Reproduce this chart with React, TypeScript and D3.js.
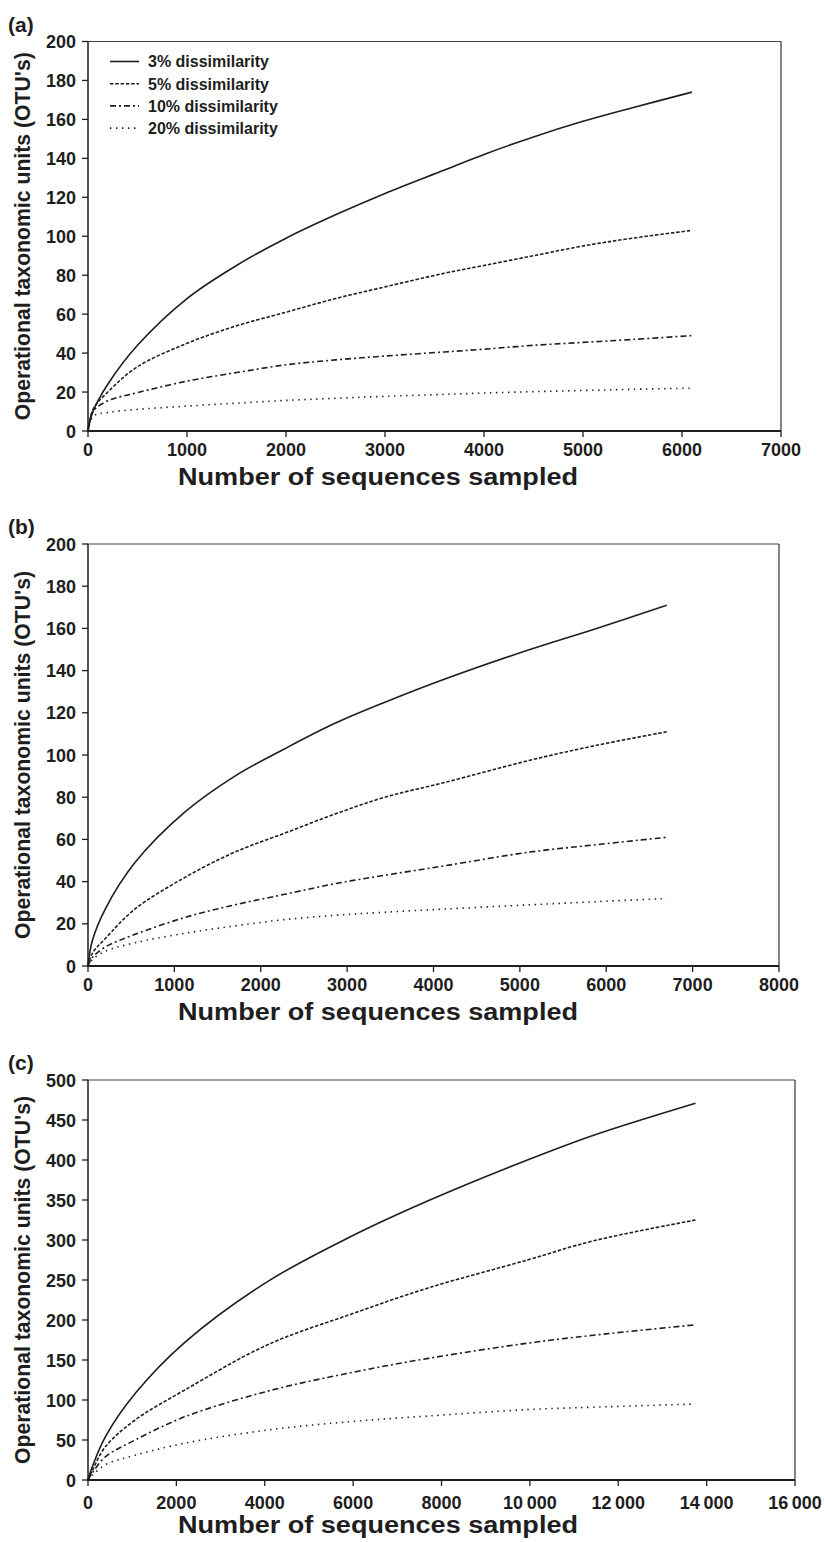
import React from 'react';
import * as d3 from 'd3';

// rarefaction curves, one line per dissimilarity cutoff
const cutoffs = ['3% dissimilarity', '5% dissimilarity', '10% dissimilarity', '20% dissimilarity'];

// panel (a)
const seqA = [0, 50, 200, 500, 1000, 1500, 2000, 2500, 3000, 3600, 4000, 4500, 5000, 5500, 6100];
const otuA3 = [0, 10, 24, 44, 68, 85, 99, 111, 122, 134, 142, 151, 159, 166, 174];
const otuA5 = [0, 11, 20, 33, 45, 54, 61, 68, 74, 81, 85, 90, 95, 99, 103];
const otuA10 = [0, 10, 15.5, 19.7, 25.6, 30, 34, 36.5, 38.5, 40.6, 42, 44, 45.5, 47, 49];
const otuA20 = [0, 7.5, 9.5, 11.1, 12.8, 14.3, 15.7, 16.8, 17.8, 18.8, 19.5, 20.2, 20.8, 21.4, 22];

// panel (b)
const seqB = [0, 50, 200, 544, 1123, 1701, 2280, 2859, 3438, 4132, 5116, 5888, 6700];
const otuB3 = [0, 12, 27, 49, 73, 90, 103, 115, 125, 136, 150, 160, 171];
const otuB5 = [0, 6, 13, 27, 42, 54, 63, 72, 80, 87, 97.5, 104.6, 111];
const otuB10 = [0, 4, 9, 15, 23, 29, 34, 39, 43, 47.5, 54, 57.5, 61];
const otuB20 = [0, 3, 7, 11, 15.5, 19, 22, 24, 25.5, 27, 29, 30.5, 32];

// panel (c)
const seqC = [0, 100, 393, 1067, 2191, 4063, 5937, 7697, 9944, 11443, 13748];
const otuC3 = [0, 17, 54, 108, 172, 248, 304, 349, 400, 431, 471];
const otuC5 = [0, 12, 41.6, 75, 112.5, 169, 207, 240, 275, 299, 325];
const otuC10 = [0, 9, 29, 50, 79, 111, 134, 152, 171, 181, 194];
const otuC20 = [0, 6, 19, 31, 46, 62.5, 73, 80, 88, 91, 95];

const yTicksAB = [0, 20, 40, 60, 80, 100, 120, 140, 160, 180, 200];
const yTicksC = [0, 50, 100, 150, 200, 250, 300, 350, 400, 450, 500];
const xTicksA = [0, 1000, 2000, 3000, 4000, 5000, 6000, 7000];
const xTicksB = [0, 1000, 2000, 3000, 4000, 5000, 6000, 7000, 8000];
const xTicksC = [0, 2000, 4000, 6000, 8000, 10000, 12000, 14000, 16000];

const dashes = [null, '3.5,1.8', '6,3,2,3', '1.4,4.6'];
const font = 'Liberation Sans, Arial, Helvetica, sans-serif';
const ink = '#1e1e1e';

const fmt = (v: number) => (v >= 10000 ? d3.format(',')(v).replace(',', '\u2009') : String(v));

function Panel({label, seq, series, xTicks, yTicks, left, right, top, bottom, legend, tickGap, titleGap}) {
  const x = d3.scaleLinear().domain([xTicks[0], xTicks[xTicks.length - 1]]).range([left, right]);
  const y = d3.scaleLinear().domain([yTicks[0], yTicks[yTicks.length - 1]]).range([bottom, top]);
  const line = d3.line<number>()
    .x((d, i) => x(seq[i]))
    .y(d => y(d))
    .curve(d3.curveCatmullRom.alpha(0.5));

  return (
    <g>
      <text x={8} y={top - 10} fontFamily={font} fontWeight="bold" fontSize={21} fill={ink}>{label}</text>

      {/* frame */}
      <line x1={left} x2={right} y1={top} y2={top} stroke="#444" strokeWidth={1.2} />
      <line x1={right} x2={right} y1={top} y2={bottom} stroke="#333" strokeWidth={1.2} />
      <line x1={left} x2={left} y1={top} y2={bottom} stroke={ink} strokeWidth={1.5} />
      <line x1={left - 1} x2={right} y1={bottom} y2={bottom} stroke={ink} strokeWidth={2.2} />

      {yTicks.map(t => (
        <g key={'y' + t}>
          <line x1={left - 6} x2={left} y1={y(t)} y2={y(t)} stroke={ink} strokeWidth={1.3} />
          <text x={left - 12} y={y(t) + 6.5} textAnchor="end" fontFamily={font} fontWeight="bold" fontSize={18} fill={ink}>{t}</text>
        </g>
      ))}
      {xTicks.map(t => (
        <g key={'x' + t}>
          <line x1={x(t)} x2={x(t)} y1={bottom} y2={bottom + 6} stroke={ink} strokeWidth={1.3} />
          <text x={x(t)} y={bottom + tickGap} textAnchor="middle" fontFamily={font} fontWeight="bold" fontSize={18} fill={ink}>{fmt(t)}</text>
        </g>
      ))}

      <text x={378} y={bottom + titleGap} textAnchor="middle" fontFamily={font} fontWeight="bold" fontSize={23}
        textLength={400} lengthAdjust="spacingAndGlyphs" fill={ink}>Number of sequences sampled</text>
      <text transform={`translate(30,${(top + bottom) / 2}) rotate(-90)`} textAnchor="middle" fontFamily={font} fontWeight="bold" fontSize={22}
        textLength={368} lengthAdjust="spacingAndGlyphs" fill={ink}>Operational taxonomic units (OTU's)</text>

      {series.map((s, i) => (
        <path key={i} d={line(s)} fill="none" stroke={ink} strokeWidth={1.6}
          strokeDasharray={dashes[i] || undefined} />
      ))}

      {legend && cutoffs.map((name, i) => {
        const ly = top + 20 + i * 22.2;
        return (
          <g key={name}>
            <line x1={110} x2={139} y1={ly} y2={ly} stroke={ink} strokeWidth={1.6} strokeDasharray={dashes[i] || undefined} />
            <text x={148} y={ly + 5.8} fontFamily={font} fontWeight="bold" fontSize={16} fill={ink}>{name}</text>
          </g>
        );
      })}
    </g>
  );
}

export default function App() {
  return (
    <svg width={824} height={1542} style={{position: 'absolute', left: 0, top: 0, background: '#fff'}}>
      <rect width={824} height={1542} fill="#fff" />
      <Panel label="(a)" seq={seqA} series={[otuA3, otuA5, otuA10, otuA20]} xTicks={xTicksA} yTicks={yTicksAB}
        left={88} right={781} top={41.5} bottom={431} legend tickGap={25} titleGap={54} />
      <Panel label="(b)" seq={seqB} series={[otuB3, otuB5, otuB10, otuB20]} xTicks={xTicksB} yTicks={yTicksAB}
        left={88} right={779} top={544} bottom={966} legend={false} tickGap={25} titleGap={54} />
      <Panel label="(c)" seq={seqC} series={[otuC3, otuC5, otuC10, otuC20]} xTicks={xTicksC} yTicks={yTicksC}
        left={88} right={795} top={1080} bottom={1480} legend={false} tickGap={29} titleGap={53} />
    </svg>
  );
}
